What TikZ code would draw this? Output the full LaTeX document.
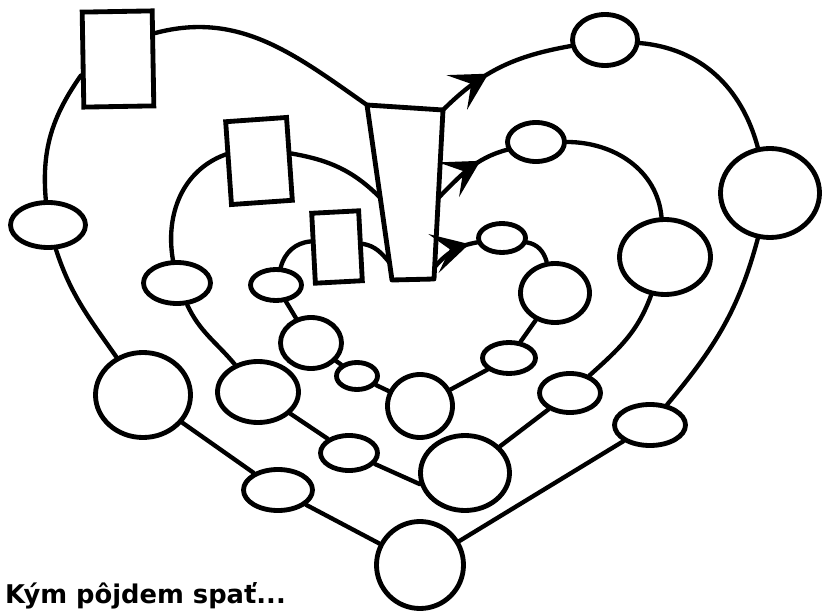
\documentclass[tikz,border=0pt]{standalone}
\usepackage{fontspec}
\usepackage{tikz}
\usetikzlibrary{shapes.geometric, arrows.meta, decorations.markings, calc}
\newfontfamily\captionfont{DejaVu Sans}
\tikzstyle{card} = [draw, rectangle, line width=1.45mm, fill=white, inner sep=0pt]
\tikzstyle{bubble} = [draw, ellipse, line width=1.45mm, fill=white, inner sep=0pt]
\tikzstyle{link} = [line width=1.3mm, line cap=round]
\tikzset{flow/.style={link, postaction={decorate, decoration={markings, mark=at position #1 with {\arrow{Stealth[length=11mm, width=12mm, inset=5mm]}}}}}}

\begin{document}
\begin{tikzpicture}[x=0.3mm, y=0.3mm]
    \useasboundingbox (0,0) rectangle (825,613);

    % Centre gate
    \coordinate (gateTL) at (367,508);
    \coordinate (gateTR) at (443,503);
    \coordinate (gateBR) at (434,334);
    \coordinate (gateBL) at (392,333);
    \coordinate (gateML) at ($(gateTL)!0.53!(gateBL)$);
    \coordinate (gateMR) at ($(gateTR)!0.52!(gateBR)$);
    \coordinate (gateIL) at ($(gateTL)!0.9!(gateBL)$);
    \coordinate (gateIR) at ($(gateTR)!0.93!(gateBR)$);
    \draw[line width=1.45mm, line join=round, fill=white] (gateTL) -- (gateTR) -- (gateBR) -- (gateBL) -- cycle;

    % Cards
    \node (rect1) [card, minimum width=21mm, minimum height=28.5mm, rotate=1] at (118,554) {};
    \node (rect2) [card, minimum width=18.3mm, minimum height=24.9mm, rotate=4] at (259,452) {};
    \node (rect3) [card, minimum width=14.1mm, minimum height=21mm, rotate=3] at (337,366) {};

    % Outer ring
    \node (o1) [bubble, minimum width=22.5mm, minimum height=13.5mm] at (48,388) {};
    \node (o2) [bubble, minimum width=28.5mm, minimum height=25.5mm] at (143,218) {};
    \node (o3) [bubble, minimum width=20.7mm, minimum height=12.3mm] at (278,123) {};
    \node (o4) [bubble, minimum width=26.1mm, minimum height=26.1mm] at (420,48) {};
    \node (o5) [bubble, minimum width=21.3mm, minimum height=12.3mm] at (650,188) {};
    \node (o6) [bubble, minimum width=29.7mm, minimum height=26.7mm] at (770,420) {};
    \node (o7) [bubble, minimum width=19.5mm, minimum height=15.3mm] at (605,573) {};

    % Middle ring
    \node (m1) [bubble, minimum width=20.1mm, minimum height=12.3mm] at (177,330) {};
    \node (m2) [bubble, minimum width=24.3mm, minimum height=18.3mm] at (258,221) {};
    \node (m3) [bubble, minimum width=17.1mm, minimum height=10.5mm] at (349,160) {};
    \node (m4) [bubble, minimum width=26.7mm, minimum height=22.5mm] at (465,140) {};
    \node (m5) [bubble, minimum width=18.3mm, minimum height=11.7mm] at (570,220) {};
    \node (m6) [bubble, minimum width=27.3mm, minimum height=22.5mm] at (665,356) {};
    \node (m7) [bubble, minimum width=17.1mm, minimum height=11.7mm] at (536,471) {};

    % Inner ring
    \node (i1) [bubble, minimum width=15.3mm, minimum height=9.3mm] at (276,328) {};
    \node (i2) [bubble, minimum width=18.3mm, minimum height=15.3mm] at (311,270) {};
    \node (i3) [bubble, minimum width=12.3mm, minimum height=8.1mm] at (357,237) {};
    \node (i4) [bubble, minimum width=19.5mm, minimum height=18.9mm] at (420,207) {};
    \node (i5) [bubble, minimum width=15.9mm, minimum height=9.3mm] at (509,255) {};
    \node (i6) [bubble, minimum width=20.7mm, minimum height=17.7mm] at (555,320) {};
    \node (i7) [bubble, minimum width=14.1mm, minimum height=8.7mm] at (502,375) {};

    % Outer connectors
    \draw[link] (rect1.34) to[out=15, in=145] (gateTL);
    \draw[link] (rect1.203) to[out=235, in=95] (o1);
    \draw[link] (o1) to[out=-72, in=125] (o2);
    \draw[link] (o2) -- (o3);
    \draw[link] (o3) -- (o4);
    \draw[link] (o4) -- (o5);
    \draw[link] (o5) to[out=50, in=-105] (o6);
    \draw[link] (o6) to[out=105, in=-5] (o7);
    \draw[flow=0.4] (gateTR) to[out=45, in=190] (o7);

    % Middle connectors
    \draw[link] (rect2.9) to[out=-10, in=135] (gateML);
    \draw[link] (rect2.165) to[out=200, in=100] (m1);
    \draw[link] (m1) to[out=-65, in=130] (m2);
    \draw[link] (m2) -- (m3);
    \draw[link] (m3.-23) -- (m4.194);
    \draw[link] (m4) -- (m5);
    \draw[link] (m5) to[out=42, in=-110] (m6);
    \draw[link] (m6) to[out=95, in=0] (m7);
    \draw[flow=0.66] (gateMR) to[out=45, in=195] (m7);

    % Inner connectors
    \draw[link] (rect3.4) to[out=-10, in=130] (gateIL);
    \draw[link] (rect3.165) to[out=185, in=75] (i1);
    \draw[link] (i1) -- (i2);
    \draw[link] (i2) -- (i3);
    \draw[link] (i3) -- (i4);
    \draw[link] (i4) -- (i5);
    \draw[link] (i5) -- (i6);
    \draw[link] (i6) to[out=105, in=-10] (i7);
    \draw[flow=0.84] (gateIR) to[out=50, in=190] (i7);

    % Caption
    \node (caption) [anchor=base west, inner sep=0pt, font=\captionfont\bfseries\fontsize{22}{27}\selectfont] at (5,10) {Kým pôjdem spať...};
\end{tikzpicture}
\end{document}
